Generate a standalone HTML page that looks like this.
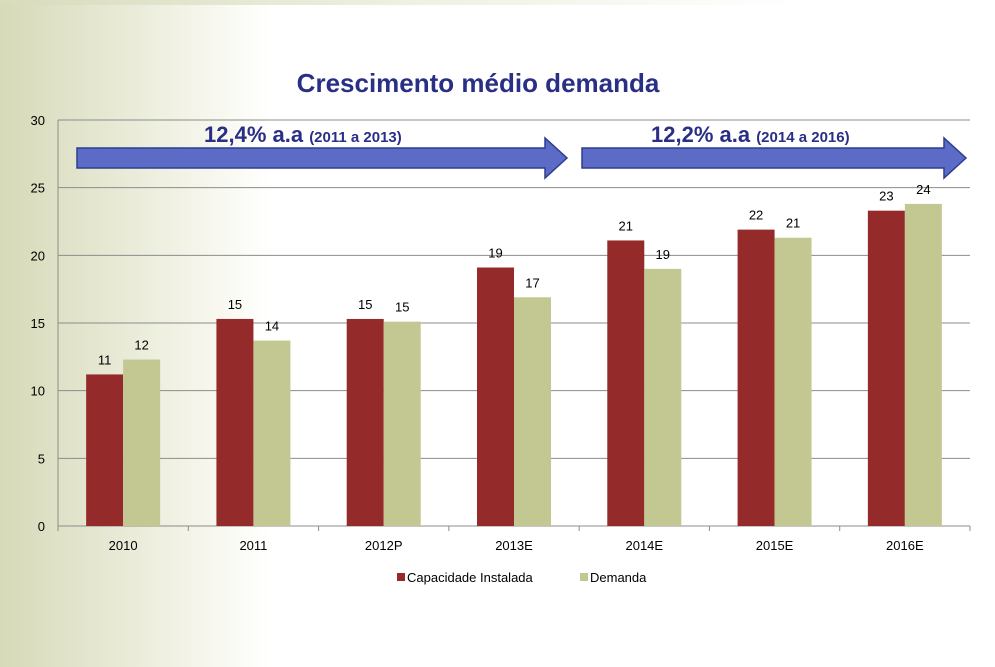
<!DOCTYPE html>
<html><head><meta charset="utf-8"><style>
body{margin:0;width:995px;height:667px;overflow:hidden;font-family:"Liberation Sans",sans-serif;
background:linear-gradient(to right,#d6dab8 0px,#e8ead6 120px,#f8f8f0 220px,#ffffff 270px);}
#top{position:absolute;left:0;top:0;width:995px;height:5px;background:linear-gradient(to right,#d8dcbc,#eef0e0 400px,#fff 800px);}
</style></head><body>
<div id="top"></div>
<svg id="chart" width="995" height="667" style="position:absolute;left:0;top:0"></svg>
<script>
const categories=["2010","2011","2012P","2013E","2014E","2015E","2016E"];
const capacidade=[11.2,15.3,15.3,19.1,21.1,21.9,23.3];
const demanda=[12.3,13.7,15.1,16.9,19.0,21.3,23.8];
const capLabels=["11","15","15","19","21","22","23"];
const demLabels=["12","14","15","17","19","21","24"];
const yTicks=[0,5,10,15,20,25,30];
const NS="http://www.w3.org/2000/svg";
const svg=document.getElementById('chart');
const x0=58,x1=970,y0=526,y1=120,yMax=30;
const y=v=>y0-(v/yMax)*(y0-y1);
const bw=(x1-x0)/categories.length;
const cx=i=>x0+bw*(i+0.5);
function mk(t,a,txt){const e=document.createElementNS(NS,t);for(const k in a)e.setAttribute(k,a[k]);if(txt!==undefined)e.textContent=txt;svg.appendChild(e);return e;}
let e;
e=mk('text',{x:478,y:92,'text-anchor':'middle','font-size':26,'font-weight':'bold',fill:'#2a2f86'},'Crescimento médio demanda');


yTicks.forEach(t=>{
 e=mk('line',{x1:x0,x2:x1,y1:y(t),y2:y(t),stroke:'#8c8c8c','stroke-width':1});
 
 
 e=mk('text',{x:45,y:y(t)+5,'text-anchor':'end','font-size':13,fill:'#000'},String(t));
 
 
});
e=mk('line',{x1:x0,x2:x0,y1:y1,y2:y0+5,stroke:'#8c8c8c'});


categories.forEach((c,i)=>{
 const bwid=37;
 e=mk('rect',{x:cx(i)-bwid,y:y(capacidade[i]),width:bwid,height:y0-y(capacidade[i]),fill:'#952a2a'});
 
 
 e=mk('rect',{x:cx(i),y:y(demanda[i]),width:bwid,height:y0-y(demanda[i]),fill:'#c3c791'});
 
 
 e=mk('text',{x:cx(i)-bwid/2,y:y(capacidade[i])-10,'text-anchor':'middle','font-size':13},capLabels[i]);
 
 
 e=mk('text',{x:cx(i)+bwid/2,y:y(demanda[i])-10,'text-anchor':'middle','font-size':13},demLabels[i]);
 
 
 e=mk('text',{x:cx(i),y:550,'text-anchor':'middle','font-size':13},c);
 
 
 e=mk('line',{x1:x0+bw*(i+1),x2:x0+bw*(i+1),y1:y0,y2:y0+5,stroke:'#8c8c8c'});
 
 
});
function arrow(xa,xb,name){
 const p=`${xa},148 ${xb-22},148 ${xb-22},138 ${xb},158 ${xb-22},178 ${xb-22},168 ${xa},168`;
 const a=mk('polygon',{points:p,fill:'#5b6bc6',stroke:'#2f3d8f','stroke-width':1.5});
 
 
}
arrow(77,567,'growth-arrow-1');
arrow(582,966,'growth-arrow-2');
e=mk('text',{x:204,y:142,'font-size':22,'font-weight':'bold',fill:'#2a2f86'});
e.innerHTML='12,4% a.a <tspan font-size="15">(2011 a 2013)</tspan>';


e=mk('text',{x:651,y:142,'font-size':22,'font-weight':'bold',fill:'#2a2f86'});
e.innerHTML='12,2% a.a <tspan font-size="15">(2014 a 2016)</tspan>';


e=mk('rect',{x:397,y:573,width:8,height:8,fill:'#952a2a'});


e=mk('text',{x:407,y:582,'font-size':13},'Capacidade Instalada');


e=mk('rect',{x:580,y:573,width:8,height:8,fill:'#c3c791'});


e=mk('text',{x:590,y:582,'font-size':13},'Demanda');


</script>
</body></html>
